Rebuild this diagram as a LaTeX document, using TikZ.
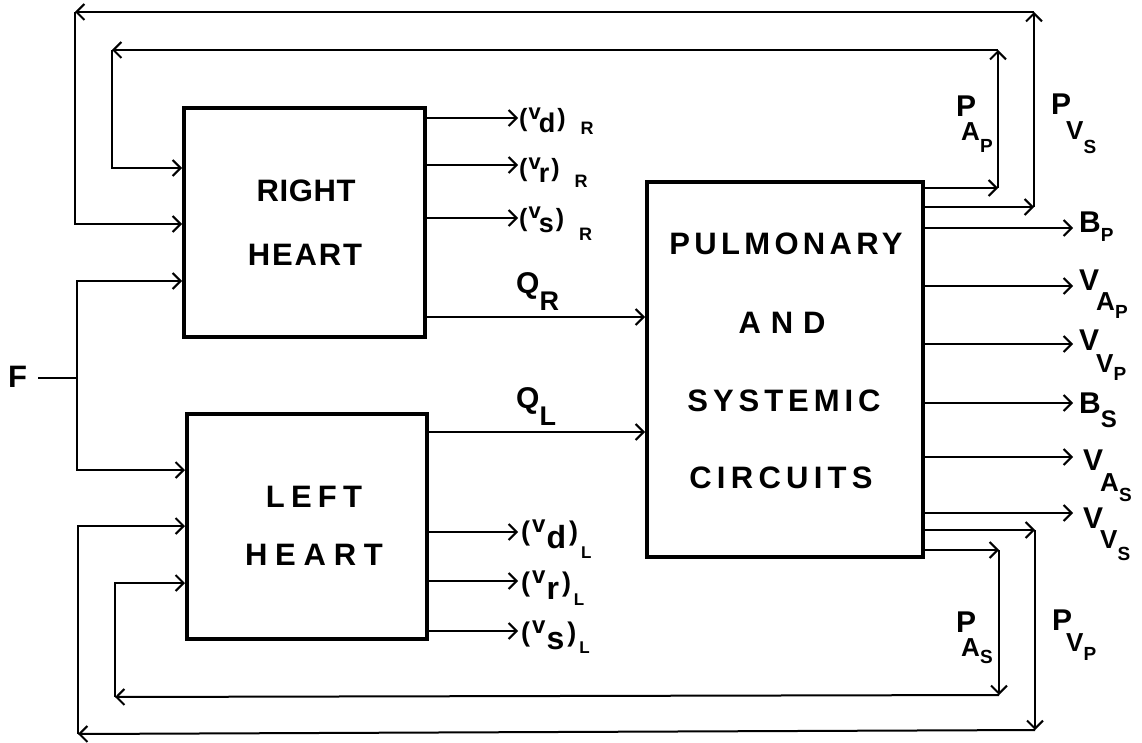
\documentclass[tikz,border=0pt]{standalone}
\usepackage{fontspec}
\setmainfont{Liberation Sans Bold}
\usetikzlibrary{arrows.meta}
\newcommand\Fs[1]{\fontsize{#1}{#1}\selectfont}
\newcommand\trk[2]{{\addfontfeature{LetterSpace=#1}#2}}
% big letter, sub, subsub, kern1, drop1, drop2, kern2
\newcommand\trip[7]{{\Fs{30}#1}\kern#4\raisebox{#5}{\Fs{26}#2}\kern#7\raisebox{#6}{\Fs{19}#3}}
% big letter, sub, kern, drop, subsize
\newcommand\duo[5]{{\Fs{30}#1}\kern#3\raisebox{#4}{\Fs{#5}#2}}
% (v_x)_R : letter, subscript, subdrop
\newcommand\volR[3]{{\Fs{25}(\kern1pt\raisebox{7pt}{\Fs{22}v}\kern-2pt\raisebox{-6pt}{\Fs{27}#1}\kern2pt)\kern15pt\raisebox{#3}{\Fs{18}#2}}}
% (v_x)_L : letter, subscript, subdrop
\newcommand\volL[3]{{\Fs{27}(\kern2pt\raisebox{8pt}{\Fs{24}v}\kern1pt\raisebox{-8pt}{\Fs{32}#1}\kern3pt)\kern3pt\raisebox{#3}{\Fs{17}#2}}}
\tikzset{
  box/.style={draw, line width=4pt, inner sep=0pt},
  ln/.style={line width=2pt},
  arr/.style={line width=2pt, -{Straight Barb[length=8pt,width=16pt]}},
  lbl/.style={inner sep=0pt, anchor=base west},
  btxt/.style={inner sep=0pt, font=\Fs{31}},
}
\begin{document}
\begin{tikzpicture}[x=1pt,y=-1pt]
\useasboundingbox (0,0) rectangle (1142,743);
\fill[white] (0,0) rectangle (1142,743);

% boxes
\node[box, minimum width=241pt, minimum height=229pt] (RH) at (304.5,222.5) {};
\node[box, minimum width=240pt, minimum height=225pt] (LH) at (307,526.5) {};
\node[box, minimum width=276pt, minimum height=375pt] (PS) at (785,369.5) {};

% box texts
\node[btxt] (t1) at (306,191) {\trk{2}{RIGHT}};
\node[btxt] (t2) at (305,255) {\trk{6}{HEART}};
\node[btxt] (t3) at (314,497) {\trk{20}{LEFT}};
\node[btxt] (t4) at (314,555) {\trk{25}{HEART}};
\node[btxt] (t5) at (786,244) {\trk{14}{PULMONARY}};
\node[btxt] (t6) at (782,323) {\trk{32}{AND}};
\node[btxt] (t7) at (784,401) {\trk{16}{SYSTEMIC}};
\node[btxt] (t8) at (781,478) {\trk{17}{CIRCUITS}};

% F input
\node[btxt] (F) at (17.5,377) {F};
\coordinate (fj) at (77,378);
\coordinate (fr) at (77,281);
\coordinate (fl) at (77,470);
\draw[ln] ([xshift=11pt]F.east |- fj) -- (fj);
\draw[arr] (fj) -- (fr) -- (RH.west |- fr);
\draw[arr] (fj) -- (fl) -- (LH.west |- fl);

% top feedback loops
\coordinate (o1) at (1034,207);
\coordinate (o2) at (1034,12);
\coordinate (o3) at (75,12);
\coordinate (o4) at (75,224);
\draw[arr] (PS.east |- o1) -- (o1);
\draw[arr] (o1) -- (o2);
\draw[arr] (o2) -- (o3);
\draw[arr] (o3) -- (o4) -- (RH.west |- o4);

\coordinate (i1) at (998,188);
\coordinate (i2) at (998,50);
\coordinate (i3) at (112,50);
\coordinate (i4) at (112,168);
\draw[arr] (PS.east |- i1) -- (i1);
\draw[arr] (i1) -- (i2);
\draw[arr] (i2) -- (i3);
\draw[arr] (i3) -- (i4) -- (RH.west |- i4);

% bottom feedback loops
\coordinate (b1) at (999,550);
\coordinate (b2) at (999,695);
\coordinate (b3) at (115,697);
\coordinate (b4) at (115,583);
\draw[arr] (PS.east |- b1) -- (b1);
\draw[arr] (b1) -- (b2);
\draw[arr] (b2) -- (b3);
\draw[arr] (b3) -- (b4) -- (LH.west |- b4);

\coordinate (c1) at (1035,530);
\coordinate (c2) at (1035,730);
\coordinate (c3) at (78,734);
\coordinate (c4) at (78,526);
\draw[arr] (PS.east |- c1) -- (c1);
\draw[arr] (c1) -- (c2);
\draw[arr] (c2) -- (c3);
\draw[arr] (c3) -- (c4) -- (LH.west |- c4);

% pressure labels
\node[lbl] (pap) at (956,117) {\trip{P}{A}{P}{-15pt}{-24pt}{-36pt}{0pt}};
\node[lbl] (pvs) at (1051,115) {\trip{P}{V}{S}{-5pt}{-25pt}{-39pt}{0pt}};
\node[lbl] (pas) at (956,632) {\trip{P}{A}{S}{-15pt}{-24pt}{-31pt}{0pt}};
\node[lbl] (pvp) at (1052,630) {\trip{P}{V}{P}{-6pt}{-21pt}{-30pt}{0pt}};

% right heart outputs
\coordinate (rd) at (518,118);
\coordinate (rr) at (518,165);
\coordinate (rs) at (518,218);
\draw[arr] (RH.east |- rd) -- (rd);
\draw[arr] (RH.east |- rr) -- (rr);
\draw[arr] (RH.east |- rs) -- (rs);
\node[lbl] (lrd) at (519,127) {\volR{d}{R}{-8pt}};
\node[lbl] (lrr) at (519,177) {\volR{r}{R}{-11pt}};
\node[lbl] (lrs) at (519,226) {\volR{s}{R}{-14pt}};

% left heart outputs
\coordinate (ld) at (518,532);
\coordinate (lr) at (518,581);
\coordinate (ls) at (518,631);
\draw[arr] (LH.east |- ld) -- (ld);
\draw[arr] (LH.east |- lr) -- (lr);
\draw[arr] (LH.east |- ls) -- (ls);
\node[lbl] (lld) at (521,540) {\volL{d}{L}{-18pt}};
\node[lbl] (llr) at (521,591) {\volL{r}{L}{-14pt}};
\node[lbl] (lls) at (521,641) {\volL{s}{L}{-12pt}};

% flows
\coordinate (qr) at (0,317);
\coordinate (ql) at (0,432);
\draw[arr] (RH.east |- qr) -- (PS.west |- qr);
\draw[arr] (LH.east |- ql) -- (PS.west |- ql);
\node[lbl] (lqr) at (516,293) {\duo{Q}{R}{0pt}{-17pt}{27}};
\node[lbl] (lql) at (516,408) {\duo{Q}{L}{0pt}{-17pt}{27}};

% circuit outputs
\coordinate (e1) at (1073,228);
\coordinate (e2) at (1073,286);
\coordinate (e3) at (1073,344);
\coordinate (e4) at (1073,403);
\coordinate (e5) at (1073,457);
\coordinate (e6) at (1073,513);
\draw[arr] (PS.east |- e1) -- (e1);
\draw[arr] (PS.east |- e2) -- (e2);
\draw[arr] (PS.east |- e3) -- (e3);
\draw[arr] (PS.east |- e4) -- (e4);
\draw[arr] (PS.east |- e5) -- (e5);
\draw[arr] (PS.east |- e6) -- (e6);
\node[lbl] (lbp) at (1079,233) {\duo{B}{P}{0pt}{-9pt}{19}};
\node[lbl] (lvap) at (1079,290) {\trip{V}{A}{P}{-3pt}{-20pt}{-28pt}{0pt}};
\node[lbl] (lvvp) at (1079,350) {\trip{V}{V}{P}{-3pt}{-22pt}{-30pt}{0pt}};
\node[lbl] (lbs) at (1079,413) {\duo{B}{S}{0pt}{-14pt}{24}};
\node[lbl] (lvas) at (1083,470) {\trip{V}{A}{S}{-3pt}{-21pt}{-31pt}{0pt}};
\node[lbl] (lvvs) at (1083,528) {\trip{V}{V}{S}{-3pt}{-20pt}{-32pt}{0pt}};
\end{tikzpicture}
\end{document}
